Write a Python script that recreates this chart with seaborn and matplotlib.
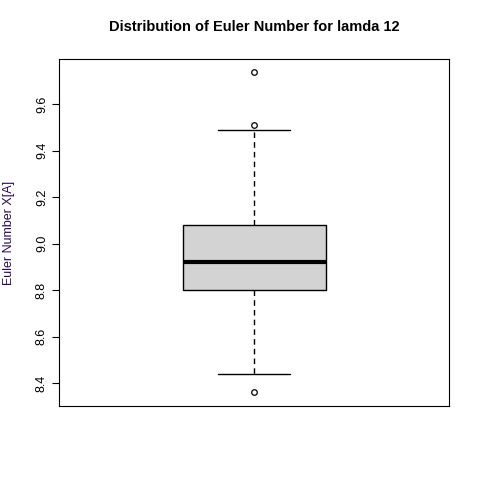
import matplotlib
matplotlib.use("Agg")
import matplotlib.pyplot as plt
import seaborn as sns
import pandas as pd

euler_values = [8.36, 8.44, 8.60, 8.80, 8.85, 8.90, 8.92, 8.95, 9.00, 9.08, 9.49, 9.51, 9.74]
y_ticks = [8.4, 8.6, 8.8, 9.0, 9.2, 9.4, 9.6]

sns.set_style("white")
plt.rcParams['font.family'] = ['Liberation Sans', 'DejaVu Sans']
plt.rcParams['text.color'] = 'black'
plt.rcParams['ytick.color'] = 'black'
fig = plt.figure(figsize=(4.8, 4.8), dpi=100)
ax = fig.add_axes([59/480, 1-406/480, 390/480, 347/480])
df = pd.DataFrame({"x": 0, "v": euler_values})
sns.boxplot(data=df, y="v", ax=ax, width=0.396, color="#d3d3d3", saturation=1,
            whis=1.5,
            boxprops=dict(edgecolor="black", linewidth=1),
            medianprops=dict(color="black", linewidth=3),
            whiskerprops=dict(color="black", linestyle=(0, (4, 3)), linewidth=1),
            capprops=dict(color="black", linewidth=1),
            capwidths=0.198,
            flierprops=dict(marker="o", markerfacecolor="none", markeredgecolor="black", markersize=4, markeredgewidth=0.9))
ax.set_xlim(-0.54, 0.54)
ax.set_ylim(8.301, 9.794)
ax.set_yticks(y_ticks)
ax.set_yticklabels([f"{t:.1f}" for t in y_ticks], rotation=90, va="center", fontsize=9, color="black")
ax.set_xticks([])
ax.tick_params(axis="y", left=True, length=5, width=0.8, color="black", pad=3, labelcolor="black")
for s in ax.spines.values():
    s.set_color("black"); s.set_linewidth(0.8)
ax.set_xlabel("")
ax.set_ylabel("Euler Number X[A]", fontsize=9, color="#2a0a4a", labelpad=15)
ax.set_title("Distribution of Euler Number for lamda 12", fontsize=10.5, fontweight="bold", pad=20, color="black")
fig.savefig("out.png", dpi=100)
